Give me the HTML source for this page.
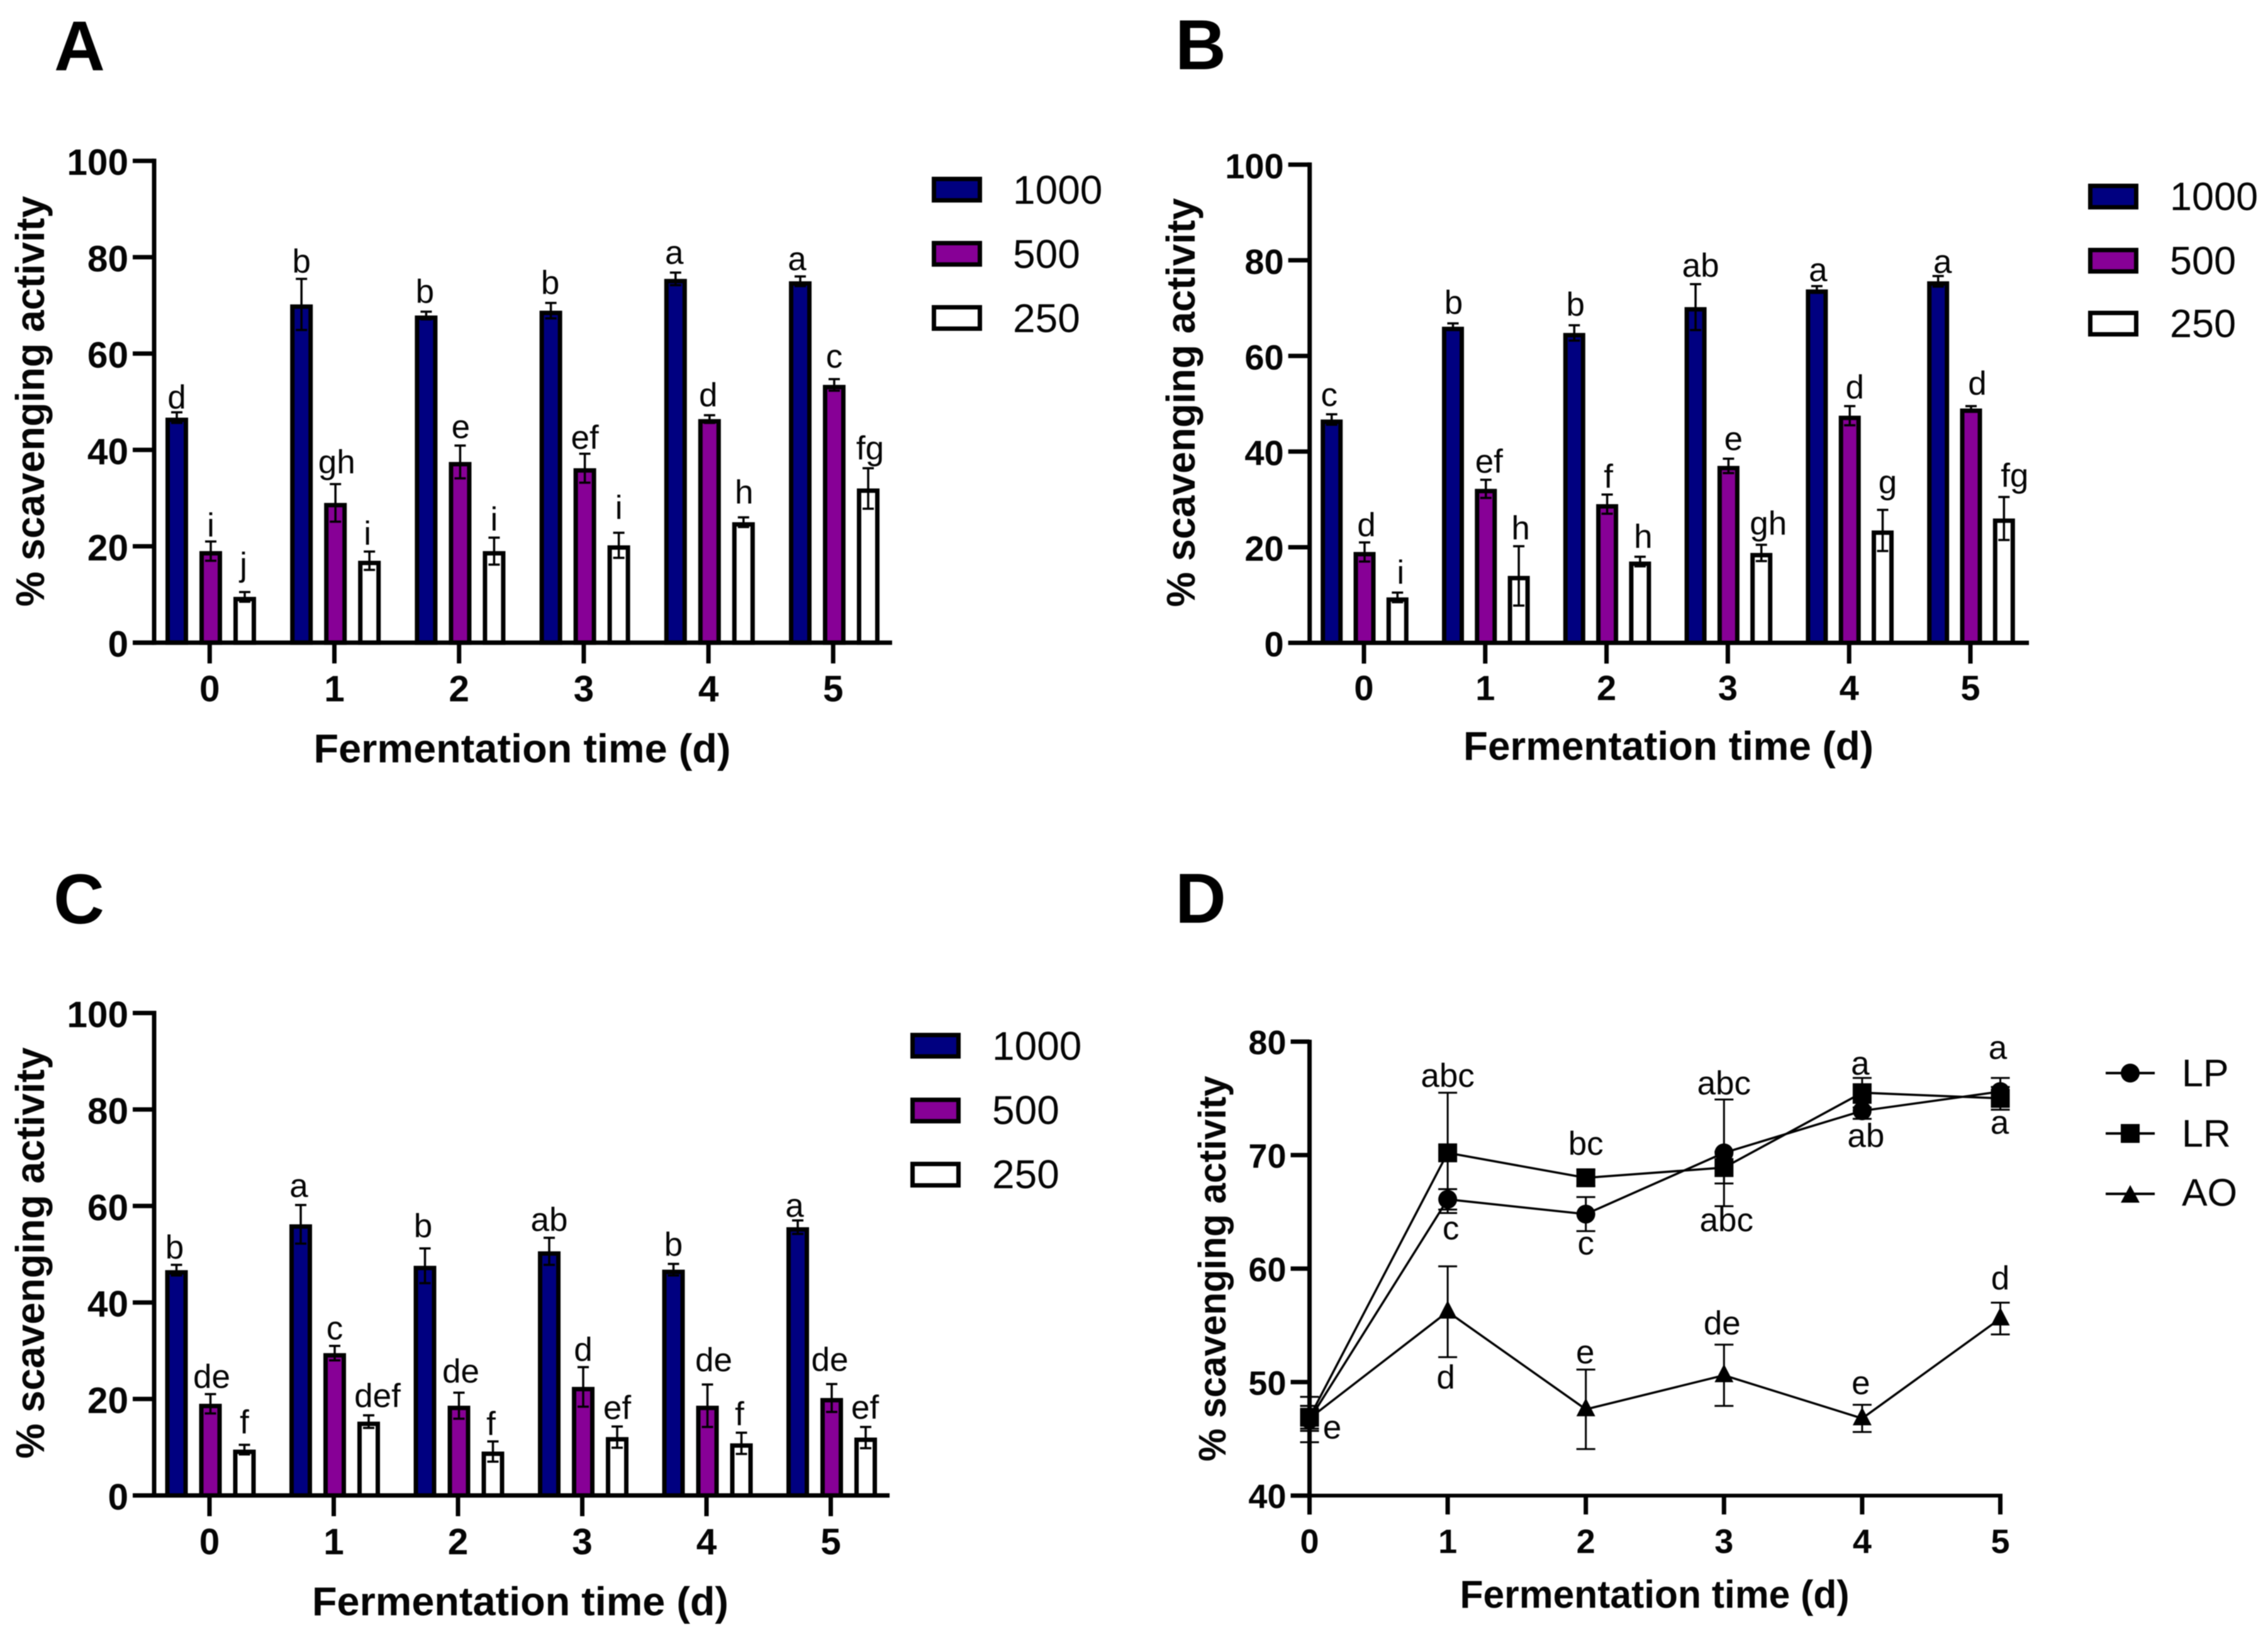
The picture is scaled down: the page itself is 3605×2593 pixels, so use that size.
<!DOCTYPE html>
<html lang="en">
<head>
<meta charset="utf-8">
<title>Scavenging activity during fermentation</title>
<style>
html,body{margin:0;padding:0;background:#fff;}
svg{display:block;filter:blur(0.7px);}
text{font-family:"Liberation Sans",Arial,sans-serif;fill:#050505;}
.letter{font-size:112px;font-weight:700;fill:#000;}
.title{font-size:64px;font-weight:700;text-anchor:middle;}
.legend{font-size:64px;}
</style>
</head>
<body>
<svg id="figure" xmlns="http://www.w3.org/2000/svg" width="3605" height="2593" viewBox="0 0 3605 2593">
  <rect x="0" y="0" width="3605" height="2593" fill="#fff"/>

  <text class="letter" x="86" y="112">A</text>
  <text class="letter" x="1868" y="110">B</text>
  <text class="letter" x="85" y="1468">C</text>
  <text class="letter" x="1868" y="1467">D</text>

  <text class="title" x="830" y="1212" textLength="663" lengthAdjust="spacingAndGlyphs">Fermentation time (d)</text>
  <text class="title" x="2652" y="1208" textLength="652" lengthAdjust="spacingAndGlyphs">Fermentation time (d)</text>
  <text class="title" x="827" y="2568" textLength="662" lengthAdjust="spacingAndGlyphs">Fermentation time (d)</text>
  <text class="title" x="2630" y="2556" textLength="619" lengthAdjust="spacingAndGlyphs" style="font-size:62px">Fermentation time (d)</text>

  <text class="title" transform="translate(70 638) rotate(-90)" textLength="653" lengthAdjust="spacingAndGlyphs">% scavenging activity</text>
  <text class="title" transform="translate(1899 640) rotate(-90)" textLength="650" lengthAdjust="spacingAndGlyphs">% scavenging activity</text>
  <text class="title" transform="translate(70 1992) rotate(-90)" textLength="654" lengthAdjust="spacingAndGlyphs">% scavenging activity</text>
  <text class="title" transform="translate(1948 2017) rotate(-90)" textLength="613" lengthAdjust="spacingAndGlyphs" style="font-size:61px">% scavenging activity</text>

  <g>
    <rect x="1484.5" y="284.5" width="73" height="34" fill="#000080" stroke="#000" stroke-width="7"/>
    <text class="legend" x="1610" y="324">1000</text>
    <rect x="1484.5" y="386.5" width="73" height="34" fill="#870096" stroke="#000" stroke-width="7"/>
    <text class="legend" x="1610" y="426">500</text>
    <rect x="1484.5" y="488.5" width="73" height="34" fill="#fff" stroke="#000" stroke-width="7"/>
    <text class="legend" x="1610" y="528">250</text>
  </g>
  <g>
    <rect x="3322.5" y="295.5" width="73" height="34" fill="#000080" stroke="#000" stroke-width="7"/>
    <text class="legend" x="3449" y="334" style="font-size:63px">1000</text>
    <rect x="3322.5" y="397.5" width="73" height="34" fill="#870096" stroke="#000" stroke-width="7"/>
    <text class="legend" x="3449" y="436" style="font-size:63px">500</text>
    <rect x="3322.5" y="497.5" width="73" height="34" fill="#fff" stroke="#000" stroke-width="7"/>
    <text class="legend" x="3449" y="536" style="font-size:63px">250</text>
  </g>
  <g>
    <rect x="1450.5" y="1645.5" width="73" height="34" fill="#000080" stroke="#000" stroke-width="7"/>
    <text class="legend" x="1577" y="1685">1000</text>
    <rect x="1450.5" y="1748.5" width="73" height="34" fill="#870096" stroke="#000" stroke-width="7"/>
    <text class="legend" x="1577" y="1787">500</text>
    <rect x="1450.5" y="1850.5" width="73" height="34" fill="#fff" stroke="#000" stroke-width="7"/>
    <text class="legend" x="1577" y="1889">250</text>
  </g>
  <g>
    <line x1="3347" x2="3425" y1="1706" y2="1706" stroke="#000" stroke-width="4"/>
    <circle cx="3386" cy="1706" r="15" fill="#000"/>
    <text class="legend" x="3468" y="1727" style="font-size:61px">LP</text>
    <line x1="3347" x2="3425" y1="1802" y2="1802" stroke="#000" stroke-width="4"/>
    <rect x="3371" y="1787" width="30" height="30" fill="#000"/>
    <text class="legend" x="3468" y="1823" style="font-size:61px">LR</text>
    <line x1="3347" x2="3425" y1="1898" y2="1898" stroke="#000" stroke-width="4"/>
    <polygon points="3386,1884 3401,1912 3371,1912" fill="#000"/>
    <text class="legend" x="3468" y="1917" style="font-size:61px">AO</text>
  </g>
</svg>

<script>
// ---- shared categories and tick labels ----
var days = [0, 1, 2, 3, 4, 5];
var barTicks = [0, 20, 40, 60, 80, 100];
var lineTicks = [40, 50, 60, 70, 80];

// ---- panel A ----
var a1000 = [46.7, 70.2, 67.9, 68.9, 75.5, 75.0];
var a1000Err = [1.1, 5.3, 0.8, 1.6, 1.3, 1.0];
var a1000Labels = ['d', 'b', 'b', 'b', 'a', 'a'];
var a500 = [19.0, 29.0, 37.5, 36.2, 46.4, 53.5];
var a500Err = [2.0, 3.9, 3.4, 3.0, 0.8, 1.2];
var a500Labels = ['i', 'gh', 'e', 'ef', 'd', 'c'];
var a250 = [9.5, 17.0, 19.0, 20.2, 25.0, 32.0];
var a250Err = [1.0, 1.9, 2.8, 2.6, 1.0, 4.2];
var a250Labels = ['j', 'i', 'i', 'i', 'h', 'fg'];

// ---- panel B ----
var b1000 = [46.7, 66.1, 64.8, 70.2, 73.9, 75.6];
var b1000Err = [1.1, 0.7, 1.6, 4.8, 0.7, 1.1];
var b1000Labels = ['c', 'b', 'b', 'ab', 'a', 'a'];
var b500 = [19.0, 32.2, 29.0, 37.0, 47.5, 49.0];
var b500Err = [2.0, 1.9, 2.0, 1.5, 2.0, 0.5];
var b500Labels = ['d', 'ef', 'f', 'e', 'd', 'd'];
var b250 = [9.5, 14.0, 17.0, 18.8, 23.5, 26.0];
var b250Err = [1.0, 6.2, 1.0, 1.7, 4.3, 4.5];
var b250Labels = ['i', 'h', 'h', 'gh', 'g', 'fg'];

// ---- panel C ----
var c1000 = [46.7, 56.2, 47.6, 50.6, 46.8, 55.6];
var c1000Err = [1.1, 4.0, 3.6, 2.8, 1.2, 1.4];
var c1000Labels = ['b', 'a', 'b', 'ab', 'b', 'a'];
var c500 = [19.0, 29.5, 18.6, 22.5, 18.6, 20.2];
var c500Err = [2.0, 1.5, 2.7, 4.1, 4.4, 2.9];
var c500Labels = ['de', 'c', 'de', 'd', 'de', 'de'];
var c250 = [9.5, 15.3, 9.1, 12.1, 10.8, 12.0];
var c250Err = [1.0, 1.3, 2.1, 2.2, 2.2, 2.2];
var c250Labels = ['f', 'def', 'f', 'ef', 'f', 'ef'];

// ---- panel D ----
var dLP = [46.7, 66.1, 64.8, 70.2, 73.9, 75.6];
var dLPErr = [2.0, 0.9, 1.5, 4.7, 0.7, 1.2];
var dLR = [46.9, 70.2, 68.0, 68.9, 75.5, 75.0];
var dLRErr = [1.0, 5.3, 0.7, 1.4, 1.3, 1.0];
var dAO = [46.8, 56.2, 47.6, 50.6, 46.8, 55.6];
var dAOErr = [1.1, 4.0, 3.5, 2.7, 1.2, 1.4];
var dTopLabels = ['', 'abc', 'bc', 'abc', 'a', 'a'];
var dUpperBelowLabels = ['e', 'c', 'c', 'abc', 'ab', 'a'];
var dAOLabels = ['', 'd', 'e', 'de', 'e', 'd'];

// ---- layout only (no data) ----
var NS = 'http://www.w3.org/2000/svg';
var svg = document.getElementById('figure');
var BORDER = 7, CAP = 18, SIG_FONT = 53;

function make(parent, tag, attrs, txt) {
  var n = document.createElementNS(NS, tag);
  for (var k in attrs) n.setAttribute(k, attrs[k]);
  if (txt !== undefined) n.textContent = txt;
  parent.appendChild(n);
  return n;
}
function segment(parent, x1, y1, x2, y2, w) {
  return make(parent, 'line', {x1: x1, y1: y1, x2: x2, y2: y2, stroke: '#000', 'stroke-width': w});
}

function drawBarPanel(id, cfg, series) {
  var g = make(svg, 'g', {});
  
  
  var y = function (v) { return cfg.y0 - (v / 100) * (cfg.y0 - cfg.yTop); };
  var x = function (d) { return cfg.x0 + d * cfg.dx; };

  series.forEach(function (s, si) {
    days.forEach(function (d, i) {
      var cx = x(d) + cfg.barShift + (si - 1) * cfg.barStep;
      var top = y(s.values[i]);
      var upper = y(s.values[i] + s.errors[i]);
      var lower = y(s.values[i] - s.errors[i]);
      var bar = make(g, 'rect', {
        x: cx - cfg.barW / 2 + BORDER / 2, y: top + BORDER / 2,
        width: cfg.barW - BORDER, height: cfg.y0 - top - BORDER / 2,
        fill: s.color, stroke: '#000', 'stroke-width': BORDER
      });
      
      
      var stem = segment(g, cx, upper, cx, lower, 3.5);
      
      
      var capTop = segment(g, cx - CAP / 2, upper, cx + CAP / 2, upper, 3.5);
      
      
      var capLow = segment(g, cx - CAP / 2, lower, cx + CAP / 2, lower, 3.5);
      
      
      var label = make(g, 'text', {
        x: cx + s.shift[i], y: upper - s.gap[i], 'text-anchor': 'middle', 'font-size': SIG_FONT
      }, s.labels[i]);
      
      
    });
  });

  var yAxis = segment(g, cfg.axisX, cfg.yTop - 3.5, cfg.axisX, cfg.y0 + 3.5, BORDER);
  
  
  var xAxis = segment(g, cfg.axisX - 34, cfg.y0, cfg.xEnd, cfg.y0, BORDER);
  
  

  barTicks.forEach(function (t) {
    var tick = segment(g, cfg.axisX - 34, y(t), cfg.axisX, y(t), BORDER);
    
    
    var lab = make(g, 'text', {
      x: cfg.axisX - 41, y: y(t) + cfg.yFont * 0.385, 'text-anchor': 'end',
      'font-size': cfg.yFont, 'font-weight': 700
    }, String(t));
    
    
  });
  days.forEach(function (d) {
    var tick = segment(g, x(d), cfg.y0, x(d), cfg.y0 + 33, BORDER);
    
    
    var lab = make(g, 'text', {
      x: x(d), y: cfg.xLabelY, 'text-anchor': 'middle', 'font-size': cfg.yFont, 'font-weight': 700
    }, String(d));
    
    
  });
}

var NAVY = '#000080', PURPLE = '#870096', WHITE = '#ffffff';

drawBarPanel('a',
  {x0: 333.3, dx: 198.2, barShift: 1.7, barStep: 54, barW: 36, y0: 1021.7, yTop: 255.7, axisX: 245, xEnd: 1418, yFont: 58.5, xLabelY: 1115},
  [
    {name: '1000', values: a1000, errors: a1000Err, labels: a1000Labels, color: NAVY,
     gap: [6, 10, 14, 14, 14, 10], shift: [0, 0, -2, -1, -2, -5]},
    {name: '500', values: a500, errors: a500Err, labels: a500Labels, color: PURPLE,
     gap: [8, 17, 12, 8, 14, 18], shift: [0, 2, 1, 0, -2, 0]},
    {name: '250', values: a250, errors: a250Err, labels: a250Labels, color: WHITE,
     gap: [26, 11, 11, 22, 22, 14], shift: [-2, -3, 0, 0, 1, 3]}
  ]);

drawBarPanel('b',
  {x0: 2168, dx: 192.8, barShift: 1, barStep: 52.3, barW: 35, y0: 1022, yTop: 261.7, axisX: 2081.7, xEnd: 3225, yFont: 56, xLabelY: 1113},
  [
    {name: '1000', values: b1000, errors: b1000Err, labels: b1000Labels, color: NAVY,
     gap: [13, 15, 15, 12, 8, 5], shift: [-4, 1, 2, 8, 2, 7]},
    {name: '500', values: b500, errors: b500Err, labels: b500Labels, color: PURPLE,
     gap: [10, 11, 11, 14, 12, 18], shift: [3, 5, 2, 8, 8, 10]},
    {name: '250', values: b250, errors: b250Err, labels: b250Labels, color: WHITE,
     gap: [14, 11, 14, 16, 26, 16], shift: [5, 3, 5, 11, 8, 17]}
  ]);

drawBarPanel('c',
  {x0: 333, dx: 197.5, barShift: 1.5, barStep: 54, barW: 36, y0: 2377.5, yTop: 1610.5, axisX: 245, xEnd: 1414, yFont: 58.5, xLabelY: 2471},
  [
    {name: '1000', values: c1000, errors: c1000Err, labels: c1000Labels, color: NAVY,
     gap: [10, 13, 18, 11, 13, 6], shift: [-3, -3, -3, 0, 0, -5]},
    {name: '500', values: c500, errors: c500Err, labels: c500Labels, color: PURPLE,
     gap: [10, 10, 16, 10, 21, 21], shift: [2, 0, 3, 0, 10, -3]},
    {name: '250', values: c250, errors: c250Err, labels: c250Labels, color: WHITE,
     gap: [18, 13, 10, 12, 12, 13], shift: [0, 14, -3, 0, -3, -1]}
  ]);

// ---- panel D line chart ----
(function () {
  var g = make(svg, 'g', {});
  
  
  var x0 = 2081.5, dx = 219.6, y0 = 2377.7, yTop = 1656;
  var x = function (d) { return x0 + d * dx; };
  var y = function (v) { return y0 - (v - 40) / 40 * (y0 - yTop); };

  var yAxis = segment(g, x0, yTop - 3, x0, y0 + 30, BORDER);
  
  
  var xAxis = segment(g, x0 - 30, y0, x(5) + 3.5, y0, BORDER - 1);
  
  
  lineTicks.forEach(function (t) {
    var tick = segment(g, x0 - 30, y(t), x0, y(t), BORDER);
    
    
    var lab = make(g, 'text', {
      x: x0 - 37, y: y(t) + 20, 'text-anchor': 'end', 'font-size': 54, 'font-weight': 700
    }, String(t));
    
    
  });
  days.forEach(function (d) {
    var tick = segment(g, x(d), y0, x(d), y0 + 30, BORDER);
    
    
    var lab = make(g, 'text', {
      x: x(d), y: 2469, 'text-anchor': 'middle', 'font-size': 54, 'font-weight': 700
    }, String(d));
    
    
  });

  var series = [
    {name: 'lp', values: dLP, errors: dLPErr, marker: 'circle'},
    {name: 'lr', values: dLR, errors: dLRErr, marker: 'square'},
    {name: 'ao', values: dAO, errors: dAOErr, marker: 'triangle'}
  ];
  series.forEach(function (s) {
    var pts = days.map(function (d, i) { return x(d) + ',' + y(s.values[i]); }).join(' ');
    var line = make(g, 'polyline', {points: pts, fill: 'none', stroke: '#000', 'stroke-width': 3.5});
    
    
    days.forEach(function (d, i) {
      var cx = x(d), cy = y(s.values[i]);
      var up = y(s.values[i] + s.errors[i]), lo = y(s.values[i] - s.errors[i]);
      var stem = segment(g, cx, up, cx, lo, 3);
      
      
      var capT = segment(g, cx - 15, up, cx + 15, up, 3);
      
      
      var capB = segment(g, cx - 15, lo, cx + 15, lo, 3);
      
      
      var m;
      if (s.marker === 'circle') {
        m = make(g, 'circle', {cx: cx, cy: cy, r: 15, fill: '#000'});
      } else if (s.marker === 'square') {
        m = make(g, 'rect', {x: cx - 15, y: cy - 15, width: 30, height: 30, fill: '#000'});
      } else {
        m = make(g, 'polygon', {points: cx + ',' + (cy - 18) + ' ' + (cx + 15) + ',' + (cy + 11) + ' ' + (cx - 15) + ',' + (cy + 11), fill: '#000'});
      }
      
      
    });
  });

  function sigLabel(name, d, txt, baseY, shift) {
    if (!txt) return;
    var t = make(g, 'text', {x: x(d) + shift, y: baseY, 'text-anchor': 'middle', 'font-size': SIG_FONT}, txt);
    
    
  }
  var topGap = [0, 9, 24, 8, 5, 30];
  var topShift = [0, 0, 0, 0, -3, -4];
  var belowGap = [0, 42, 37, 40, 45, 38];
  var belowShift = [36, 5, 0, 4, 6, -1];
  var aoGap = [0, 50, 10, 16, 17, 21];
  var aoShift = [0, -3, -1, -3, -2, 0];

  days.forEach(function (d, i) {
    var hiTop = Math.max(dLP[i] + dLPErr[i], dLR[i] + dLRErr[i]);
    sigLabel('d-significance-top-day-' + d, d, dTopLabels[i], y(hiTop) - topGap[i], topShift[i]);
    var lowBase = i === 0 ? 2287 : y(Math.min(dLP[i] - dLPErr[i], dLR[i] - dLRErr[i])) + belowGap[i];
    sigLabel('d-significance-below-day-' + d, d, dUpperBelowLabels[i], lowBase, belowShift[i]);
    var aoBase = i === 1 ? y(dAO[i] - dAOErr[i]) + aoGap[i] : y(dAO[i] + dAOErr[i]) - aoGap[i];
    sigLabel('d-significance-ao-day-' + d, d, dAOLabels[i], aoBase, aoShift[i]);
  });
})();
</script>
</body>
</html>
